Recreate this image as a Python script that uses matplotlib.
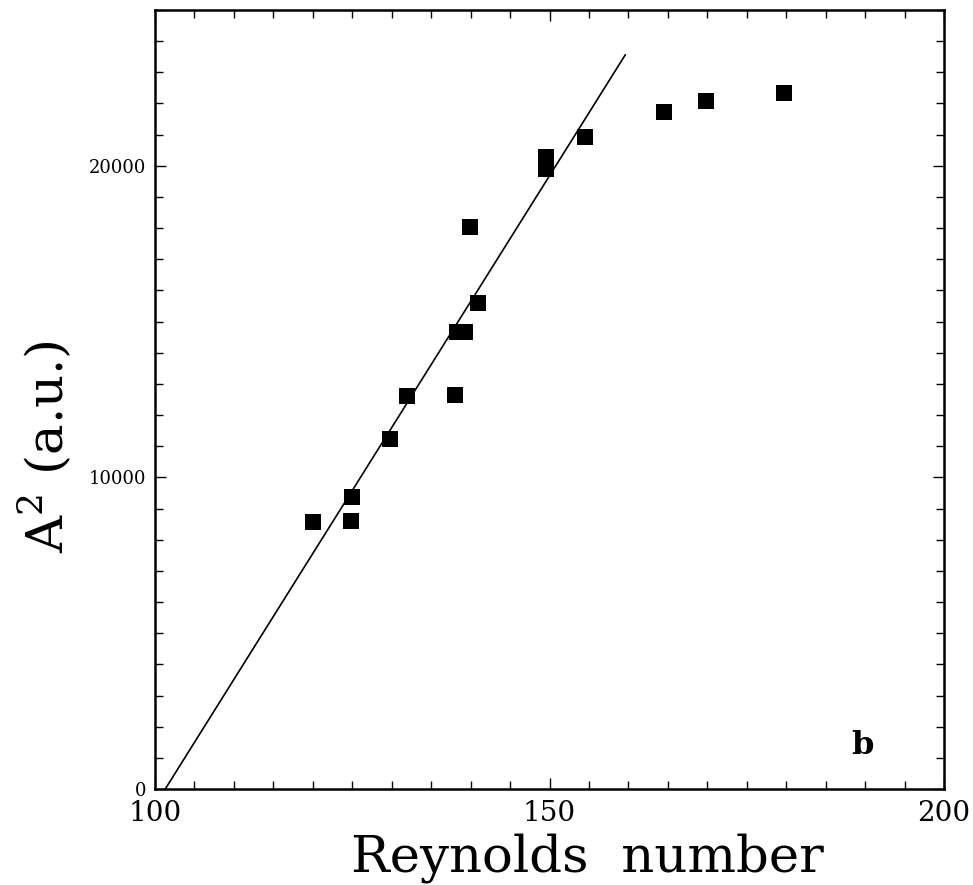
import matplotlib
matplotlib.use("Agg")
import matplotlib.pyplot as plt
from matplotlib.ticker import MultipleLocator, FixedLocator

# Measured squared amplitude vs Reynolds number
reynolds = [120.0, 124.8, 125.0, 129.8, 131.9, 138.0, 138.3, 139.3, 139.9,
            140.9, 149.6, 149.6, 154.5, 164.5, 169.8, 179.7]
amp_sq = [8560, 8600, 9360, 11220, 12600, 12630, 14650, 14650, 18040,
          15610, 20270, 19890, 20930, 21730, 22080, 22340]

# Linear fit through the onset region
fit_re = [101.3, 159.6]
fit_amp = [0, 23560]

x_ticks = [100, 150, 200]
y_ticks = [0, 10000, 20000]

fig = plt.figure(figsize=(9.73, 8.85), dpi=100)
ax = fig.add_axes([0.1593, 0.1085, 0.8109, 0.8802])

ax.plot(fit_re, fit_amp, color="black", lw=1.2)
ax.scatter(reynolds, amp_sq, marker="s", s=120, color="black", linewidths=0, zorder=3)

ax.set_xlim(100, 200)
ax.set_ylim(0, 25000)

ax.xaxis.set_major_locator(FixedLocator(x_ticks))
ax.xaxis.set_minor_locator(MultipleLocator(5))
ax.yaxis.set_major_locator(FixedLocator(y_ticks))
ax.yaxis.set_minor_locator(MultipleLocator(1000))

ax.tick_params(which="both", direction="in", top=True, right=True, width=1.0, color="black")
ax.tick_params(which="major", length=8)
ax.tick_params(which="minor", length=6)
ax.tick_params(axis="x", which="major", labelsize=20, pad=8)
ax.tick_params(axis="y", which="major", labelsize=13, pad=6)
for lab in ax.get_xticklabels() + ax.get_yticklabels():
    lab.set_family("DejaVu Serif")

for sp in ax.spines.values():
    sp.set_linewidth(1.8)

ax.set_xlabel("Reynolds  number", fontsize=37, family="DejaVu Serif")
ax.xaxis.set_label_coords(0.548, -0.089)
ax.xaxis.label.set_va("center")
ax.set_ylabel(r"A$^{\mathregular{2}}$ (a.u.)", fontsize=37, family="DejaVu Serif")
ax.yaxis.set_label_coords(-0.139, 0.44)
ax.yaxis.label.set_va("center")

ax.text(189.6, 1400, "b", fontsize=23, fontweight="bold", family="DejaVu Serif",
        ha="center", va="center")

fig.savefig("out.png", dpi=100)
